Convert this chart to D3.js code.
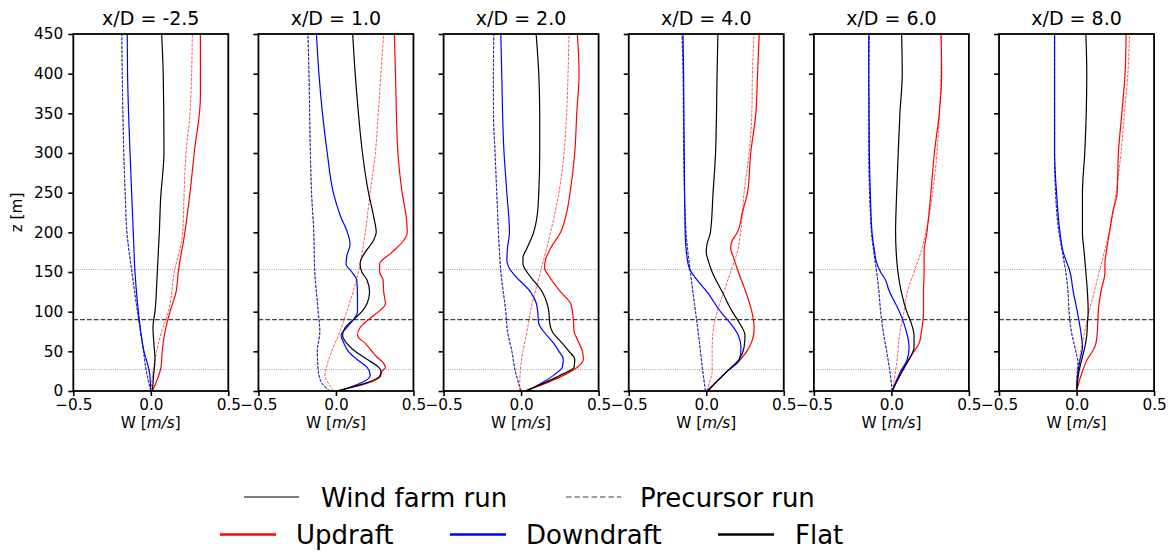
<!DOCTYPE html>
<html><head><meta charset="utf-8">
<script src="https://cdn.jsdelivr.net/npm/d3@7"></script>
<style>body{margin:0;background:#fff} text{font-family:"DejaVu Sans",sans-serif}</style>
</head><body><svg id="c" width="1169" height="552"></svg>
<script>
// ---- data ----
const titles = ["x/D = -2.5","x/D = 1.0","x/D = 2.0","x/D = 4.0","x/D = 6.0","x/D = 8.0"];
const xTicks = [-0.5, 0.0, 0.5];
const zTicks = [0,50,100,150,200,250,300,350,400,450];
const hubLines = [{z:27, kind:"dot"},{z:90, kind:"dash"},{z:153, kind:"dot"}];

// [z, W] pairs, one array per panel
const updraftWF = [
 [[0,0.01],[30,0.066],[50,0.074],[75,0.092],[100,0.124],[125,0.163],[150,0.177],[200,0.22],[250,0.253],[300,0.28],[370,0.32],[450,0.32]],
 [[0,0.004],[18,0.286],[25,0.297],[30,0.319],[45,0.254],[60,0.189],[70,0.139],[80,0.156],[90,0.21],[100,0.275],[110,0.319],[125,0.308],[140,0.304],[150,0.282],[160,0.282],[175,0.362],[190,0.438],[200,0.46],[220,0.453],[250,0.427],[300,0.4],[350,0.39],[400,0.384],[450,0.377]],
 [[0,0.027],[20,0.277],[30,0.363],[40,0.402],[50,0.396],[65,0.363],[75,0.342],[90,0.337],[100,0.331],[110,0.32],[125,0.255],[145,0.179],[155,0.151],[165,0.157],[180,0.19],[200,0.255],[225,0.294],[250,0.316],[300,0.346],[350,0.359],[400,0.374],[450,0.363]],
 [[0,0.012],[25,0.136],[40,0.222],[55,0.277],[70,0.305],[80,0.309],[100,0.294],[125,0.255],[150,0.207],[170,0.173],[180,0.157],[190,0.168],[200,0.201],[225,0.233],[250,0.266],[300,0.287],[350,0.32],[400,0.331],[450,0.342]],
 [[0,0.005],[10,0.027],[25,0.07],[40,0.114],[50,0.146],[60,0.179],[75,0.194],[100,0.207],[125,0.207],[150,0.211],[175,0.211],[200,0.229],[250,0.255],[300,0.277],[350,0.309],[400,0.324],[450,0.32]],
 [[0,0],[25,0.038],[40,0.07],[50,0.103],[60,0.125],[80,0.136],[100,0.14],[125,0.157],[150,0.183],[160,0.183],[180,0.196],[200,0.212],[225,0.233],[250,0.262],[300,0.27],[350,0.292],[400,0.313],[450,0.32]]
];
const updraftPC = [
 [[0,0],[25,0.015],[50,0.038],[75,0.07],[100,0.113],[150,0.152],[200,0.206],[250,0.215],[300,0.227],[350,0.253],[450,0.268]],
 [[0,-0.017],[10,-0.05],[20,-0.072],[30,-0.061],[50,-0.028],[75,0.026],[100,0.07],[150,0.145],[200,0.189],[250,0.221],[300,0.254],[350,0.273],[400,0.29],[450,0.308]],
 [[0,-0.01],[25,-0.005],[50,0.012],[75,0.038],[100,0.06],[150,0.125],[200,0.19],[250,0.244],[300,0.277],[350,0.294],[400,0.303],[450,0.309]],
 [[0,0.005],[10,0.02],[25,0.038],[50,0.038],[75,0.044],[100,0.07],[125,0.114],[150,0.157],[175,0.2],[200,0.222],[250,0.244],[300,0.277],[350,0.294],[400,0.298],[450,0.309]],
 [[0,0.005],[25,0.027],[50,0.042],[75,0.055],[100,0.081],[125,0.103],[150,0.146],[175,0.19],[200,0.222],[250,0.266],[300,0.294],[350,0.309],[400,0.32],[450,0.324]],
 [[0,0],[25,0.01],[50,0.027],[75,0.053],[100,0.081],[125,0.114],[150,0.146],[175,0.179],[200,0.212],[250,0.255],[300,0.287],[350,0.309],[400,0.331],[450,0.342]]
];
const downdraftWF = [
 [[0,0],[25,-0.01],[50,-0.044],[100,-0.08],[150,-0.102],[200,-0.113],[300,-0.134],[400,-0.15],[450,-0.152]],
 [[0,0.026],[20,0.221],[30,0.2],[40,0.134],[50,0.08],[60,0.052],[70,0.033],[80,0.07],[90,0.113],[100,0.139],[120,0.139],[140,0.134],[150,0.102],[160,0.065],[170,0.07],[185,0.091],[200,0.074],[220,0.03],[250,-0.017],[300,-0.056],[350,-0.087],[400,-0.11],[450,-0.126]],
 [[0,0.038],[20,0.211],[30,0.266],[40,0.272],[50,0.244],[60,0.211],[75,0.146],[85,0.114],[100,0.107],[110,0.099],[125,0.06],[145,-0.038],[155,-0.077],[165,-0.092],[180,-0.088],[200,-0.075],[250,-0.092],[300,-0.11],[400,-0.125],[450,-0.131]],
 [[0,0.005],[25,0.136],[40,0.216],[55,0.224],[70,0.207],[85,0.157],[100,0.092],[125,0.005],[140,-0.06],[155,-0.11],[170,-0.125],[200,-0.136],[300,-0.142],[400,-0.146],[450,-0.15]],
 [[0,0.005],[25,0.06],[40,0.103],[55,0.114],[70,0.103],[85,0.081],[100,0.052],[114,0.016],[127,-0.016],[140,-0.038],[150,-0.07],[165,-0.1],[175,-0.108],[200,-0.125],[250,-0.136],[300,-0.142],[400,-0.146],[450,-0.146]],
 [[0,0],[25,0.01],[40,0.023],[55,0.038],[75,0.027],[100,0.005],[125,-0.021],[150,-0.042],[175,-0.086],[200,-0.107],[250,-0.129],[300,-0.142],[400,-0.142],[450,-0.142]]
];
const downdraftPC = [
 [[0,0],[25,-0.03],[50,-0.048],[100,-0.087],[150,-0.123],[200,-0.155],[250,-0.166],[300,-0.175],[350,-0.18],[450,-0.188]],
 [[0,-0.039],[10,-0.093],[25,-0.115],[50,-0.121],[75,-0.104],[100,-0.115],[150,-0.137],[200,-0.143],[250,-0.158],[300,-0.165],[400,-0.174],[450,-0.18]],
 [[0,0],[25,-0.038],[50,-0.06],[75,-0.088],[100,-0.099],[150,-0.131],[200,-0.146],[250,-0.157],[300,-0.168],[350,-0.179],[400,-0.179],[450,-0.175]],
 [[0,-0.005],[25,-0.023],[50,-0.038],[75,-0.053],[100,-0.07],[150,-0.103],[200,-0.131],[300,-0.146],[400,-0.15],[450,-0.157]],
 [[0,0.005],[25,-0.01],[50,-0.031],[75,-0.053],[100,-0.07],[125,-0.081],[150,-0.096],[175,-0.114],[200,-0.129],[300,-0.146],[400,-0.146],[450,-0.142]],
 [[0,0],[25,0.005],[35,0.01],[50,-0.005],[75,-0.034],[100,-0.049],[125,-0.055],[150,-0.07],[175,-0.092],[200,-0.114],[250,-0.136],[300,-0.142],[450,-0.142]]
];
const flatWF = [
 [[0,0.01],[20,0.018],[40,0.027],[60,0.02],[80,0.014],[100,0.027],[150,0.042],[200,0.055],[250,0.066],[270,0.075],[300,0.085],[400,0.08],[450,0.07]],
 [[0,0.004],[20,0.286],[25,0.29],[30,0.275],[40,0.2],[50,0.124],[60,0.07],[70,0.043],[80,0.059],[90,0.113],[100,0.167],[110,0.2],[125,0.217],[140,0.2],[150,0.167],[160,0.156],[165,0.16],[175,0.189],[190,0.243],[200,0.26],[220,0.243],[250,0.21],[300,0.171],[350,0.145],[400,0.124],[450,0.108]],
 [[0,0.027],[20,0.255],[30,0.342],[40,0.346],[50,0.309],[60,0.266],[75,0.201],[85,0.185],[100,0.179],[110,0.168],[125,0.136],[150,0.038],[160,0.012],[168,0.012],[180,0.038],[200,0.081],[220,0.103],[250,0.114],[300,0.12],[350,0.12],[400,0.114],[450,0.097]],
 [[0,0.005],[25,0.136],[40,0.212],[55,0.244],[70,0.25],[85,0.216],[100,0.168],[125,0.103],[150,0.038],[165,0.012],[175,0],[185,0.005],[200,0.027],[250,0.044],[300,0.06],[400,0.07],[450,0.075]],
 [[0,0.005],[25,0.07],[40,0.114],[55,0.146],[70,0.146],[85,0.129],[100,0.099],[125,0.064],[150,0.042],[175,0.031],[200,0.027],[250,0.034],[300,0.044],[350,0.055],[400,0.07],[450,0.066]],
 [[0,0],[25,0.016],[40,0.034],[55,0.053],[70,0.066],[85,0.07],[100,0.075],[125,0.07],[150,0.06],[175,0.049],[200,0.038],[250,0.038],[300,0.053],[400,0.066],[450,0.06]]
];
const flatPC = [
 [[0,0],[25,-0.028],[50,-0.046],[100,-0.085],[150,-0.121],[200,-0.153],[250,-0.165],[300,-0.174],[350,-0.18],[450,-0.187]],
 [[0,-0.037],[10,-0.09],[25,-0.113],[50,-0.12],[75,-0.104],[100,-0.114],[150,-0.136],[200,-0.143],[250,-0.157],[300,-0.165],[400,-0.174],[450,-0.181]],
 [[0,0],[25,-0.037],[50,-0.059],[75,-0.087],[100,-0.099],[150,-0.13],[200,-0.146],[250,-0.157],[300,-0.168],[350,-0.178],[400,-0.179],[450,-0.176]],
 [[0,-0.005],[25,-0.022],[50,-0.037],[75,-0.052],[100,-0.069],[150,-0.102],[200,-0.13],[300,-0.145],[400,-0.149],[450,-0.156]],
 [[0,0.005],[25,-0.01],[50,-0.03],[75,-0.052],[100,-0.069],[125,-0.08],[150,-0.095],[175,-0.113],[200,-0.128],[300,-0.145],[400,-0.146],[450,-0.143]],
 [[0,0],[25,0.005],[35,0.009],[50,-0.005],[75,-0.033],[100,-0.048],[125,-0.055],[150,-0.069],[175,-0.091],[200,-0.113],[250,-0.135],[300,-0.141],[450,-0.141]]
];
const legendRuns = ["Wind farm run","Precursor run"];
const legendCases = ["Updraft","Downdraft","Flat"];
const caseColors = ["#ff0000","#0000ff","#000000"];

// ---- layout ----
const svg = d3.select("#c");
const left0 = 73.3, step = 185.15, pw = 155, topY = 34, botY = 391;
const y = d3.scaleLinear().domain([0,450]).range([botY, topY]);
const fmt = d3.format(".1f");

const series = [
  {d: flatPC, c: caseColors[2], dash: true},
  {d: downdraftPC, c: caseColors[1], dash: true},
  {d: updraftPC, c: caseColors[0], dash: true},
  {d: updraftWF, c: caseColors[0], dash: false},
  {d: downdraftWF, c: caseColors[1], dash: false},
  {d: flatWF, c: caseColors[2], dash: false}
];

titles.forEach((t, i) => {
  const x0 = left0 + i*step;
  const x = d3.scaleLinear().domain([-0.5,0.5]).range([x0, x0+pw]);
  const g = svg.append("g");
  const cid = "clip"+i;
  svg.append("clipPath").attr("id", cid).append("rect")
     .attr("x", x0).attr("y", topY).attr("width", pw).attr("height", botY-topY);
  const pg = g.append("g").attr("clip-path", `url(#${cid})`);

  hubLines.forEach(h => {
    pg.append("line").attr("x1", x0).attr("x2", x0+pw).attr("y1", y(h.z)).attr("y2", y(h.z))
      .attr("stroke", h.kind==="dash" ? "#404040" : "#707070")
      .attr("stroke-width", h.kind==="dash" ? 1.3 : 0.8)
      .attr("stroke-dasharray", h.kind==="dash" ? "4.8,2" : "0.8,1.4");
  });

  const line = d3.line().x(p => x(p[1])).y(p => y(p[0])).curve(d3.curveMonotoneY);
  series.forEach(s => {
    pg.append("path").attr("d", line(s.d[i])).attr("fill","none")
      .attr("stroke", s.c)
      .attr("stroke-width", s.dash ? 0.8 : 1.2)
      .attr("stroke-opacity", s.dash ? 0.8 : 1)
      .attr("stroke-dasharray", s.dash ? "3,1.3" : null);
  });

  // axes
  const ax = g.append("g").attr("transform", `translate(0,${botY})`)
    .call(d3.axisBottom(x).tickValues(xTicks).tickSize(5).tickPadding(3).tickFormat(d => fmt(d)));
  const ay = g.append("g").attr("transform", `translate(${x0},0)`)
    .call(d3.axisLeft(y).tickValues(zTicks).tickSize(5).tickPadding(5).tickFormat(i===0 ? d3.format("d") : () => ""));
  [ax, ay].forEach(a => {
    a.select(".domain").remove();
    a.selectAll(".tick line").attr("stroke","#000").attr("stroke-width",1.6);
    a.selectAll("text").attr("font-size", 15.3).attr("fill","#000").attr("font-family","DejaVu Sans");
  });

  g.append("rect").attr("x", x0).attr("y", topY).attr("width", pw).attr("height", botY-topY)
    .attr("fill","none").attr("stroke","#000").attr("stroke-width",1.8);

  g.append("text").attr("x", x0+pw/2).attr("y", 25).attr("text-anchor","middle")
    .attr("font-size", 19).text(t);

  const xl = g.append("text").attr("x", x0+pw/2).attr("y", 428).attr("text-anchor","middle").attr("font-size", 15.3);
  xl.append("tspan").text("W [");
  xl.append("tspan").attr("font-style","italic").text("m/s");
  xl.append("tspan").text("]");
});

svg.append("text").attr("transform", `translate(22,${(topY+botY)/2}) rotate(-90)`)
  .attr("text-anchor","middle").attr("font-size", 15.3).text("z [m]");

// ---- legend ----
const lg = svg.append("g");
const row1 = [{x:244, tx:321, dash:false},{x:566, tx:640, dash:true}];
legendRuns.forEach((r, k) => {
  const p = row1[k];
  lg.append("line").attr("x1", p.x).attr("x2", p.x+55).attr("y1", 497).attr("y2", 497)
    .attr("stroke","#808080").attr("stroke-width", p.dash ? 1.6 : 2)
    .attr("stroke-dasharray", p.dash ? "5.5,3" : null);
  lg.append("text").attr("x", p.tx).attr("y", 506.5).attr("font-size", 26).text(r);
});
const row2 = [{x:220, tx:296},{x:450, tx:526},{x:718, tx:795}];
legendCases.forEach((c, k) => {
  const p = row2[k];
  lg.append("line").attr("x1", p.x).attr("x2", p.x+56).attr("y1", 534.5).attr("y2", 534.5)
    .attr("stroke", caseColors[k]).attr("stroke-width", 2.4);
  lg.append("text").attr("x", p.tx).attr("y", 543.5).attr("font-size", 26).text(c);
});
</script>
</body></html>
